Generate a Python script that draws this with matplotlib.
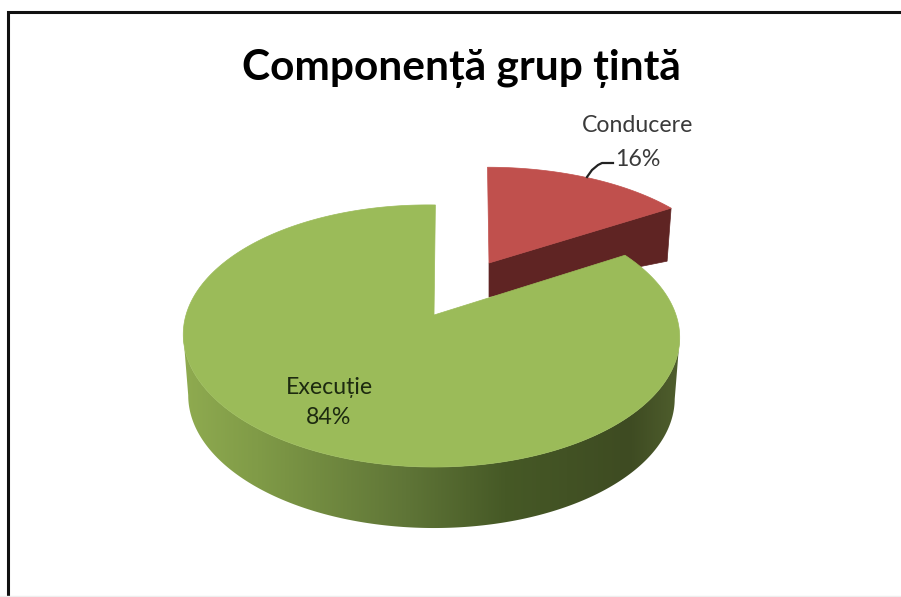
import numpy as np
import matplotlib
matplotlib.use("Agg")
import matplotlib.pyplot as plt
from matplotlib.colors import LinearSegmentedColormap
from matplotlib.patches import Polygon

title = "Componență grup țintă"
categories = ["Conducere", "Execuție"]
values = [16, 84]

plt.rcParams['font.family'] = ['Lato', 'Noto Sans', 'DejaVu Sans']

fig = plt.figure(figsize=(9.01, 5.97), dpi=100)
ax = fig.add_axes([0, 0, 1, 1])
ax.set_xlim(0, 901)
ax.set_ylim(597, 0)
ax.axis('off')

# perspective view of a unit disc
K = 0.16
RX = 245.0
RY = 127.7
ROT = np.radians(2.0)


def rim(theta, x0, y0, sx=1.0, sy=1.0, skew=0.0):
    u, v = np.sin(theta), -np.cos(theta)
    d = 1 - K * v
    return x0 + sx * RX * u / d + skew * v, y0 + sy * RY * v / d


split = 2 * np.pi * values[0] / sum(values)

# Exploded red slice
RED = dict(x0=489, y0=263, sx=0.96, sy=0.87, skew=1.5)
t_red = np.linspace(0, split, 80)
rx, ry = rim(t_red, **RED)
wall = [(RED['x0'], RED['y0']), (rx[-1], ry[-1]),
        (rx[-1] - 4, ry[-1] + 53), (RED['x0'], RED['y0'] + 34)]
ax.add_patch(Polygon(wall, closed=True, fc='#5f2423', ec='#5f2423', lw=0.5, zorder=2))
ax.add_patch(Polygon(np.column_stack([np.r_[RED['x0'], rx], np.r_[RED['y0'], ry]]),
                     closed=True, fc='#c0504d', ec='#c0504d', lw=0.5, zorder=3))

# Green slice: gradient outer side, then top
APEX = (434, 315)
GREEN = dict(x0=431, y0=315, skew=3.0)
side_cmap = LinearSegmentedColormap.from_list('side', [
    (0.00, '#8fab50'), (0.15, '#809b47'), (0.45, '#5f7537'),
    (0.65, '#465926'), (0.90, '#3e4b22'), (1.00, '#4f5e2d')])

t_side = np.radians(np.linspace(60, 300, 600))
sx_, sy_ = rim(t_side, **GREEN)
i0, i1 = int(np.argmax(sx_)), int(np.argmin(sx_))
sx_, sy_ = sx_[i0:i1 + 1], sy_[i0:i1 + 1]
bx = GREEN['x0'] + (sx_ - GREEN['x0']) * 0.98
by = sy_ + 61
side_poly = Polygon(np.column_stack([np.r_[sx_, bx[::-1]], np.r_[sy_, by[::-1]]]),
                    closed=True, fc='none', ec='none', transform=ax.transData)
ax.add_patch(side_poly)
grad = np.linspace(0, 1, 512).reshape(1, -1)
im = ax.imshow(grad, cmap=side_cmap, extent=(182, 680, 600, 250), aspect='auto',
               zorder=4, interpolation='bilinear')
im.set_clip_path(side_poly)
ax.set_xlim(0, 901)
ax.set_ylim(597, 0)

t_green = np.linspace(split + ROT, 2 * np.pi + ROT, 500)
gx, gy = rim(t_green, **GREEN)
ax.add_patch(Polygon(np.column_stack([np.r_[APEX[0], gx], np.r_[APEX[1], gy]]),
                     closed=True, fc='#9bbb59', ec='#9bbb59', lw=0.5, zorder=5))

# Frame
ax.plot([8, 8, 901], [597, 12, 12], color='#111111', lw=2.2, solid_capstyle='butt',
        solid_joinstyle='miter', zorder=6)
ax.plot([0, 901], [596, 596], color='#eeeeee', lw=1, zorder=6)

# Text
ax.text(461, 69, title, fontsize=30.5, fontweight='bold', color='black', ha='center', va='center', zorder=7)
ax.text(638, 126, categories[0], fontsize=16.7, color='#3a3a3a', ha='center', va='center', zorder=7)
ax.text(638, 159, f"{values[0]}%", fontsize=16.7, color='#3a3a3a', ha='center', va='center', zorder=7)
ax.text(329, 388, categories[1], fontsize=16.7, color='#1d2a10', ha='center', va='center', zorder=7)
ax.text(329, 418, f"{values[1]}%", fontsize=16.7, color='#1d2a10', ha='center', va='center', zorder=7)

# Leader line
ax.plot([587, 592, 598, 602, 613], [177, 170, 165, 163, 163], color='#222222', lw=1.6, zorder=7)

fig.savefig('out.png', dpi=100)
